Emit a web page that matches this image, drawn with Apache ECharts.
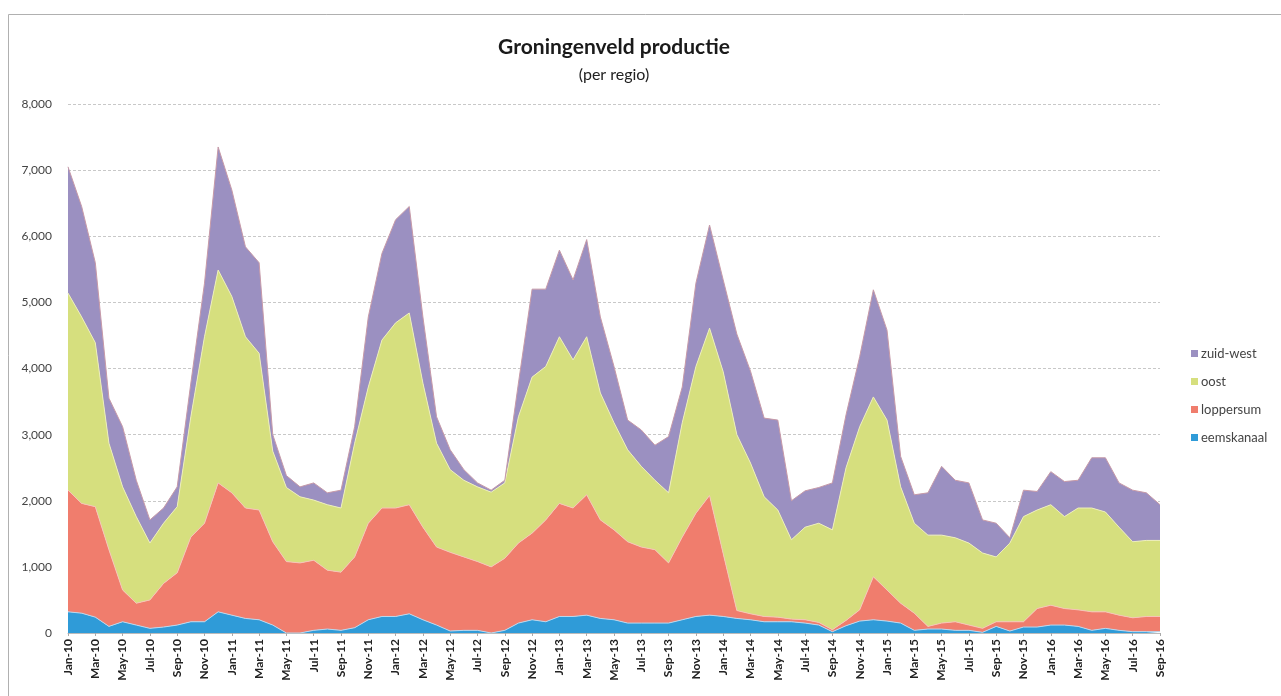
<!DOCTYPE html>
<html>
<head>
<meta charset="utf-8">
<script src="https://cdn.jsdelivr.net/npm/echarts@6/dist/echarts.min.js"></script>
<style>
html,body{margin:0;padding:0;background:#fff;}
#c{width:1281px;height:696px;}
</style>
</head>
<body>
<div id="c"></div>
<script>
var categories = [
 'Jan-10','Feb-10','Mar-10','Apr-10','May-10','Jun-10','Jul-10','Aug-10','Sep-10','Oct-10','Nov-10','Dec-10',
 'Jan-11','Feb-11','Mar-11','Apr-11','May-11','Jun-11','Jul-11','Aug-11','Sep-11','Oct-11','Nov-11','Dec-11',
 'Jan-12','Feb-12','Mar-12','Apr-12','May-12','Jun-12','Jul-12','Aug-12','Sep-12','Oct-12','Nov-12','Dec-12',
 'Jan-13','Feb-13','Mar-13','Apr-13','May-13','Jun-13','Jul-13','Aug-13','Sep-13','Oct-13','Nov-13','Dec-13',
 'Jan-14','Feb-14','Mar-14','Apr-14','May-14','Jun-14','Jul-14','Aug-14','Sep-14','Oct-14','Nov-14','Dec-14',
 'Jan-15','Feb-15','Mar-15','Apr-15','May-15','Jun-15','Jul-15','Aug-15','Sep-15','Oct-15','Nov-15','Dec-15',
 'Jan-16','Feb-16','Mar-16','Apr-16','May-16','Jun-16','Jul-16','Aug-16','Sep-16'
];

var eemskanaal = [
 320,300,240,100,170,120,70,90,120,170,170,320,
 270,220,200,120,0,0,40,60,40,80,200,250,
 250,290,200,120,30,40,40,0,40,150,200,170,
 250,250,270,220,200,150,150,150,150,200,250,270,
 250,220,200,170,170,170,150,120,20,110,180,200,
 180,150,40,60,60,40,40,10,100,30,90,90,
 120,120,100,40,70,40,20,20,20
];

var loppersum = [
 1840,1660,1670,1160,480,330,430,660,790,1280,1490,1950,
 1850,1670,1660,1260,1080,1060,1060,890,880,1070,1460,1640,
 1640,1650,1400,1180,1190,1110,1040,1000,1090,1210,1310,1540,
 1710,1640,1820,1490,1360,1230,1150,1110,910,1250,1560,1810,
 950,120,90,80,70,40,50,40,30,80,170,650,
 470,300,260,40,90,130,80,60,70,140,80,280,
 300,250,250,280,250,230,210,230,230
];

var oost = [
 2980,2820,2480,1610,1560,1310,860,910,1000,1820,2820,3220,
 2970,2590,2370,1370,1120,1000,910,990,970,1720,2060,2540,
 2800,2900,2180,1570,1250,1160,1130,1130,1140,1910,2360,2320,
 2520,2240,2390,1920,1620,1390,1220,1050,1060,1730,2220,2530,
 2750,2660,2280,1810,1620,1200,1400,1500,1510,2310,2770,2720,
 2570,1760,1360,1380,1330,1270,1240,1140,980,1190,1590,1490,
 1520,1390,1540,1570,1510,1330,1150,1150,1150
];

var zuidwest = [
 1910,1670,1210,680,910,550,350,230,300,510,810,1860,
 1610,1360,1370,250,180,150,260,180,270,250,1060,1310,
 1560,1610,1000,400,300,160,60,30,40,510,1330,1170,
 1310,1210,1470,1150,850,450,550,530,850,540,1260,1560,
 1390,1520,1390,1190,1360,590,550,540,710,800,1060,1620,
 1360,460,430,640,1040,870,910,500,510,80,400,280,
 500,530,420,760,820,670,780,720,540
];

var yTicks = [0,1000,2000,3000,4000,5000,6000,7000,8000];

var FONT = 'Lato, "Open Sans", sans-serif';
var chart = echarts.init(document.getElementById('c'), null, {renderer:'canvas'});

function mk(name, data, color, line) {
  return {
    name: name, type: 'line', stack: 'total', data: data,
    showSymbol: false, symbol: 'none', smooth: false,
    lineStyle: {width: 1, color: line},
    areaStyle: {color: color, opacity: 1},
    itemStyle: {color: color},
    emphasis: {disabled: true}
  };
}

chart.setOption({
  animation: false,
  backgroundColor: '#ffffff',
  graphic: [
    {type:'rect', shape:{x:8.5,y:14.5,width:1300,height:700}, style:{fill:'none', stroke:'#b0b0b0', lineWidth:1}, silent:true, z:-1},
    {type:'text', x:614, y:47, style:{text:'Groningenveld productie', font:'bold 21px ' + FONT, fill:'#1a1a1a', textAlign:'center', textVerticalAlign:'middle'}},
    {type:'text', x:614, y:75, style:{text:'(per regio)', font:'16px ' + FONT, fill:'#222', textAlign:'center', textVerticalAlign:'middle'}}
  ],
  legend: {
    orient: 'vertical', left: 1186, top: 342,
    itemWidth: 7, itemHeight: 7, itemGap: 15,
    icon: 'rect',
    data: ['zuid-west','oost','loppersum','eemskanaal'],
    textStyle: {fontFamily: FONT, fontSize: 13, color: '#444', padding:[0,0,0,-2]}
  },
  grid: {left: 68, right: 121, top: 104, bottom: 63, containLabel: false},
  xAxis: {
    type: 'category', data: categories, boundaryGap: false,
    axisLine: {show: true, lineStyle: {color: '#bbb'}},
    axisTick: {show: true, interval: 1, length: 3, lineStyle: {color:'#aaa'}},
    axisLabel: {interval: 1, rotate: 90, fontFamily: FONT, fontSize: 12, fontWeight: 'bold', color: '#222', margin: 6}
  },
  yAxis: {
    type: 'value', min: yTicks[0], max: yTicks[yTicks.length-1], interval: 1000,
    axisLine: {show: false}, axisTick: {show: false},
    axisLabel: {fontFamily: FONT, fontSize: 12, color: '#444', margin: 16,
      formatter: function(v){ return v.toLocaleString('en-US'); }},
    splitLine: {show: true, lineStyle: {color: '#c8c8c8', type: [3,2], width: 1}}
  },
  series: [
    mk('eemskanaal', eemskanaal, '#2f9bd8', '#b8d8ef'),
    mk('loppersum', loppersum, '#f07d6d', '#f6c4b8'),
    mk('oost', oost, '#d6df7e', '#eef0b8'),
    mk('zuid-west', zuidwest, '#9b90c1', '#c79aa8')
  ]
});
</script>
</body>
</html>
